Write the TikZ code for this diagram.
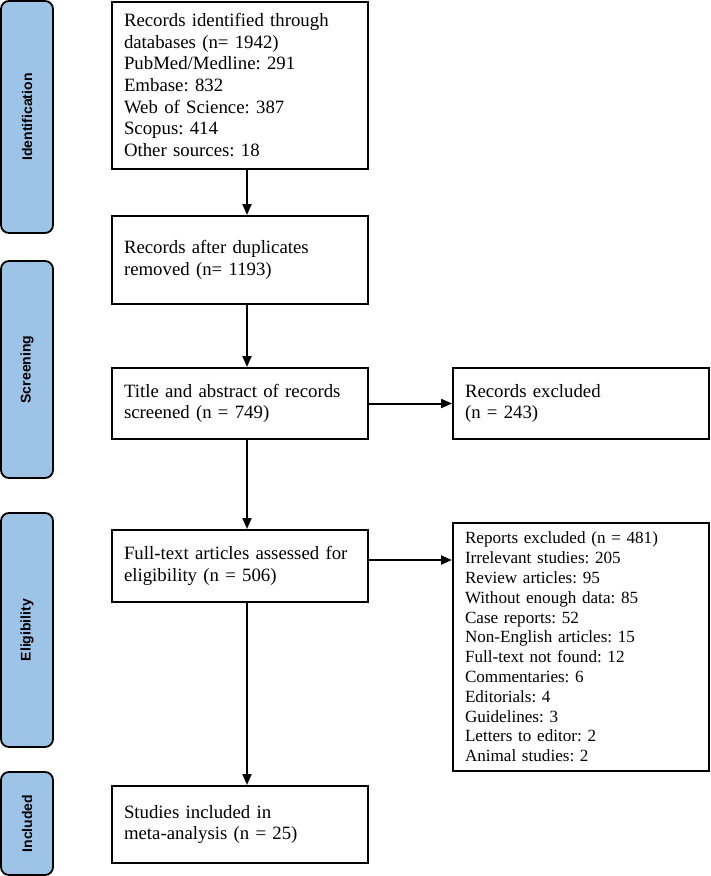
\documentclass[tikz,border=0pt]{standalone}
\usepackage{fontspec}
\setmainfont{Liberation Serif}
\newfontfamily\phasefont{Liberation Sans}
\usepackage{xcolor}
\usetikzlibrary{arrows.meta}
\definecolor{phaseblue}{HTML}{9DC3E6}
\frenchspacing

\begin{document}
\begin{tikzpicture}[
    x=1pt, y=-1pt,
    box/.style={rectangle, draw, line width=2pt, inner xsep=12pt, inner ysep=0pt, text width=232pt, align=left, font=\fontsize{18.8}{21.7}\selectfont},
    smallbox/.style={box, font=\fontsize{17.1}{19.8}\selectfont},
    phase/.style={rectangle, draw, line width=1.8pt, rounded corners=8pt, fill=phaseblue, rotate=90, minimum height=52pt, inner sep=0pt, font=\phasefont\bfseries\fontsize{14}{16}\selectfont},
    arrow/.style={-{Triangle[length=11pt, width=9pt]}, line width=2pt},
]
\useasboundingbox (0,0) rectangle (710,876);

% Phases
\node[phase, minimum width=232pt] (identification) at (27,117) {Identification};
\node[phase, minimum width=217pt] (screening) at (27,369.5) {Screening};
\node[phase, minimum width=234pt] (eligibility) at (27,630) {Eligibility};
\node[phase, minimum width=103pt] (included) at (27,823.5) {Included};

% Main flow
\node[box, minimum height=167pt] (records) at (240,85) {Records identified through\\databases (n= 1942)\\PubMed/Medline: 291\\Embase: 832\\Web of Science: 387\\Scopus: 414\\Other sources: 18};
\node[box, minimum height=88pt] (dedup) at (240,260) {Records after duplicates\\removed (n= 1193)};
\node[box, minimum height=71pt] (screened) at (240,403.5) {Title and abstract of records\\screened (n = 749)};
\node[box, minimum height=72pt] (fulltext) at (240,566) {Full-text articles assessed for\\eligibility (n = 506)};
\node[box, minimum height=77pt] (studies) at (240,824.5) {Studies included in\\meta-analysis (n = 25)};

% Exclusions
\node[box, minimum height=71pt] (recexcl) at (581,403.5) {Records excluded\\(n = 243)};
\node[smallbox, minimum height=248pt] (repexcl) at (581,647) {Reports excluded (n = 481)\\Irrelevant studies: 205\\Review articles: 95\\Without enough data: 85\\Case reports: 52\\Non-English articles: 15\\Full-text not found: 12\\Commentaries: 6\\Editorials: 4\\Guidelines: 3\\Letters to editor: 2\\Animal studies: 2};

% Arrows
\coordinate (axis) at (247,0);
\coordinate (exclline) at (0,560);
\draw[arrow] (records.south -| axis) -- (dedup.north -| axis);
\draw[arrow] (dedup.south -| axis) -- (screened.north -| axis);
\draw[arrow] (screened.south -| axis) -- (fulltext.north -| axis);
\draw[arrow] (fulltext.south -| axis) -- (studies.north -| axis);
\draw[arrow] (screened) -- (recexcl);
\draw[arrow] (fulltext.east |- exclline) -- (repexcl.west |- exclline);

\end{tikzpicture}
\end{document}
